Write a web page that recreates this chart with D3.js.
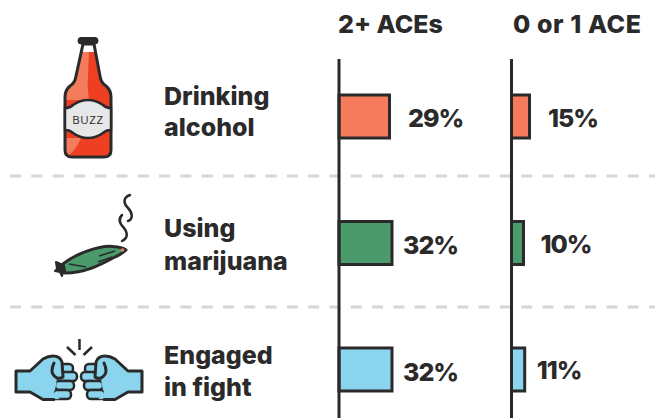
<!DOCTYPE html>
<html>
<head>
<meta charset="utf-8">
<script src="https://cdn.jsdelivr.net/npm/d3@7"></script>
<style>
    html, body { margin: 0; padding: 0; background: #fff; }
    svg { display: block; }
    text { font-family: Inter, sans-serif; font-weight: 800; fill: #2b2a2b; }
</style>
</head>
<body>
<div id="chart"></div>
<script>
// Data
var behaviors = ["Drinking alcohol", "Using marijuana", "Engaged in fight"];
var labelLines = [["Drinking", "alcohol"], ["Using", "marijuana"], ["Engaged", "in fight"]];
var groups = ["2+ ACEs", "0 or 1 ACE"];
var highAces = [29, 32, 32];
var lowAces = [15, 10, 11];
var barColors = ["#f47c5c", "#4a9a6b", "#8ad4ee"];

// General settings
var width = 655;
var height = 418;
var ink = "#2b2a2b";
var svg = d3.select("#chart")
    .append("svg")
    .attr("width", width)
    .attr("height", height);

// Chart
// bars in the original are hand sized, not proportional, so the scale is piecewise
var x = d3.scaleLinear().domain([0, 15, 29, 32]).range([0, 18, 50.5, 53]);
var y = d3.scaleBand().domain(behaviors).range([95, 391]).paddingInner(0.66).paddingOuter(0);
var groupX = d3.scaleOrdinal().domain(groups).range([339, 511.5]);
var valueGaps = [[18.5, 11, 11], [18.5, 17, 12]];
var valueBaselines = [[126.5, 254, 381], [126.5, 253, 379]];
var labelBaselines = [[105, 136], [237, 270], [364, 396]];

// dashed dividers
svg.selectAll(".divider")
    .data([176, 307])
    .enter()
    .append("line")
    .attr("class", "divider")
    .attr("x1", 10)
    .attr("x2", width)
    .attr("y1", d => d)
    .attr("y2", d => d)
    .attr("stroke", "#d6d6d6")
    .attr("stroke-width", 3)
    .attr("stroke-dasharray", "11 10.3");

// column headers
svg.selectAll(".groupTitle")
    .data(groups)
    .enter()
    .append("text")
    .attr("class", "groupTitle")
    .attr("x", d => groupX(d) + (d == groups[0] ? -1 : 1.5))
    .attr("y", 33)
    .attr("font-size", 25)
    .attr("letter-spacing", d => d == groups[0] ? 0 : 0.6)
    .text(d => d);

// bars + values
[highAces, lowAces].forEach(function (values, g) {
    var x0 = groupX(groups[g]);

    var panel = svg.append("g").attr("class", "panel");

    panel.selectAll("rect")
        .data(values)
        .enter()
        .append("rect")
        .attr("x", x0)
        .attr("y", (d, i) => y(behaviors[i]))
        .attr("width", d => x(d))
        .attr("height", y.bandwidth())
        .attr("fill", (d, i) => barColors[i])
        .attr("stroke", ink)
        .attr("stroke-width", 3);

    panel.selectAll("text")
        .data(values)
        .enter()
        .append("text")
        .attr("x", (d, i) => x0 + x(d) + valueGaps[g][i])
        .attr("y", (d, i) => valueBaselines[g][i])
        .attr("font-size", 25)
        .attr("letter-spacing", -1)
        .text(d => d + "%");

    panel.append("line")
        .attr("x1", x0)
        .attr("x2", x0)
        .attr("y1", 59)
        .attr("y2", height)
        .attr("stroke", ink)
        .attr("stroke-width", 3);
});

// row labels
labelLines.forEach(function (lines, i) {
    svg.selectAll(".rowLabel" + i)
        .data(lines)
        .enter()
        .append("text")
        .attr("class", "rowLabel" + i)
        .attr("x", 164)
        .attr("y", (d, j) => labelBaselines[i][j])
        .attr("font-size", 25)
        .text(d => d);
});

// Icons
drawBottle();
drawJoint();
drawFists();

function drawBottle() {
    var g = svg.append("g").attr("class", "bottle");
    var outline = "M83,44 L94,44 L100,76 Q101,83 106,86 Q111,90 111,97 L111,150 Q111,157 104,157 L72,157 Q65,157 65,150 L65,97 Q65,90 70,86 Q75,83 76,76 Z";

    g.append("path").attr("d", outline).attr("fill", "#ee3f23");
    // lighter left side
    g.append("path")
        .attr("d", "M83,50 L89,50 L88,76 Q87,86 89,100 L65,100 L65,97 Q65,90 70,86 Q75,83 76,76 Z")
        .attr("fill", "#f47c5c");
    g.append("path")
        .attr("d", "M65,138 L81,138 Q76,150 68,156 Q65,155 65,150 Z")
        .attr("fill", "#f47c5c");
    // white neck
    g.append("path").attr("d", "M83,44 L94,44 L95.5,52 L81.5,52 Z").attr("fill", "#fff");
    g.append("path").attr("d", outline).attr("fill", "none").attr("stroke", ink).attr("stroke-width", 3).attr("stroke-linejoin", "round");
    // cap
    g.append("rect").attr("x", 78).attr("y", 37.5).attr("width", 20).attr("height", 6.5).attr("rx", 3).attr("fill", ink).attr("stroke", ink);
    // paper label
    g.append("path")
        .attr("d", "M65,108 Q70,108 73,105 Q80,100 88,100 Q96,100 103,105 Q106,108 111,108 L111,130 Q106,130 103,133 Q96,138 88,138 Q80,138 73,133 Q70,130 65,130 Z")
        .attr("fill", "#e6e7e8")
        .attr("stroke", ink)
        .attr("stroke-width", 2.5);
    g.append("text")
        .attr("x", 88)
        .attr("y", 124)
        .attr("text-anchor", "middle")
        .attr("font-size", 11.5)
        .attr("letter-spacing", 0.6)
        .style("font-family", "'Open Sans', sans-serif")
        .style("font-weight", 400)
        .text("BUZZ");
}

function drawJoint() {
    var g = svg.append("g").attr("class", "joint");
    g.append("path")
        .attr("d", "M63,264 C75,254 100,245 113,246.5 Q122,247 126,250 Q122,254 113,258 C100,265 85,273 65,273 Z")
        .attr("fill", "#4a9a6b")
        .attr("stroke", ink)
        .attr("stroke-width", 3)
        .attr("stroke-linejoin", "round");
    g.append("path")
        .attr("d", "M63,265 L56,262 L57,269 L55,271 L60,272 L62,276 L64,270 Z")
        .attr("fill", ink)
        .attr("stroke", ink)
        .attr("stroke-width", 2)
        .attr("stroke-linejoin", "round");
    g.append("circle").attr("cx", 122.5).attr("cy", 250).attr("r", 1.8).attr("fill", "#f47c5c");
    g.selectAll(".creases")
        .data(["M69,264 L86,267", "M99,256 L115,251", "M98,262 L112,257"])
        .enter()
        .append("path")
        .attr("d", d => d)
        .attr("fill", "none")
        .attr("stroke", ink)
        .attr("stroke-width", 1.5);
    g.selectAll(".smoke")
        .data(["M130,195 C122,198 124,204 128,208 C133,213 133,219 128,221", "M122,215 C118,219 120,224 124,228 C128,233 128,238 122,241"])
        .enter()
        .append("path")
        .attr("d", d => d)
        .attr("fill", "none")
        .attr("stroke", ink)
        .attr("stroke-width", 2.5)
        .attr("stroke-linecap", "round");
}

function drawFists() {
    var g = svg.append("g").attr("class", "fists");
    var fist = function (parent) {
        // fingers
        parent.selectAll(".finger")
            .data([[60, 364, 13, 9], [55, 372, 22, 9], [55, 381, 19, 9], [53, 390, 18, 9]])
            .enter()
            .append("rect")
            .attr("class", "finger")
            .attr("x", d => d[0])
            .attr("y", d => d[1])
            .attr("width", d => d[2])
            .attr("height", d => d[3])
            .attr("rx", 4)
            .attr("fill", "#8ad4ee")
            .attr("stroke", ink)
            .attr("stroke-width", 2.5);
        // palm + thumb
        parent.append("path")
            .attr("d", "M16,371 L30,371 L43,359 Q48,356 53,356 Q60,356 62,362 L63,377 Q60,379 57,378 Q56,388 54,392 Q55,396 60,399 L43,399.5 L30,392 L16,392 Z")
            .attr("fill", "#8ad4ee")
            .attr("stroke", "none");
        parent.append("path")
            .attr("d", "M54,399.5 L43,399.5 L30,392 L16,392 L16,371 L30,371 L43,359 Q48,356 53,356 Q60,356 62,362 L63,377 Q60,379 57,378 Q52,375 52,371 Q52,367 54,363")
            .attr("fill", "none")
            .attr("stroke", ink)
            .attr("stroke-width", 3)
            .attr("stroke-linejoin", "round")
            .attr("stroke-linecap", "round");
    };
    fist(g.append("g"));
    fist(g.append("g").attr("transform", "translate(158,0) scale(-1,1)"));
    g.selectAll(".spark")
        .data(["M79.5,339 L79.5,350", "M67,347 L75.5,355", "M92,347 L83.5,355"])
        .enter()
        .append("path")
        .attr("d", d => d)
        .attr("stroke", ink)
        .attr("stroke-width", 2.5);
}
</script>
</body>
</html>
